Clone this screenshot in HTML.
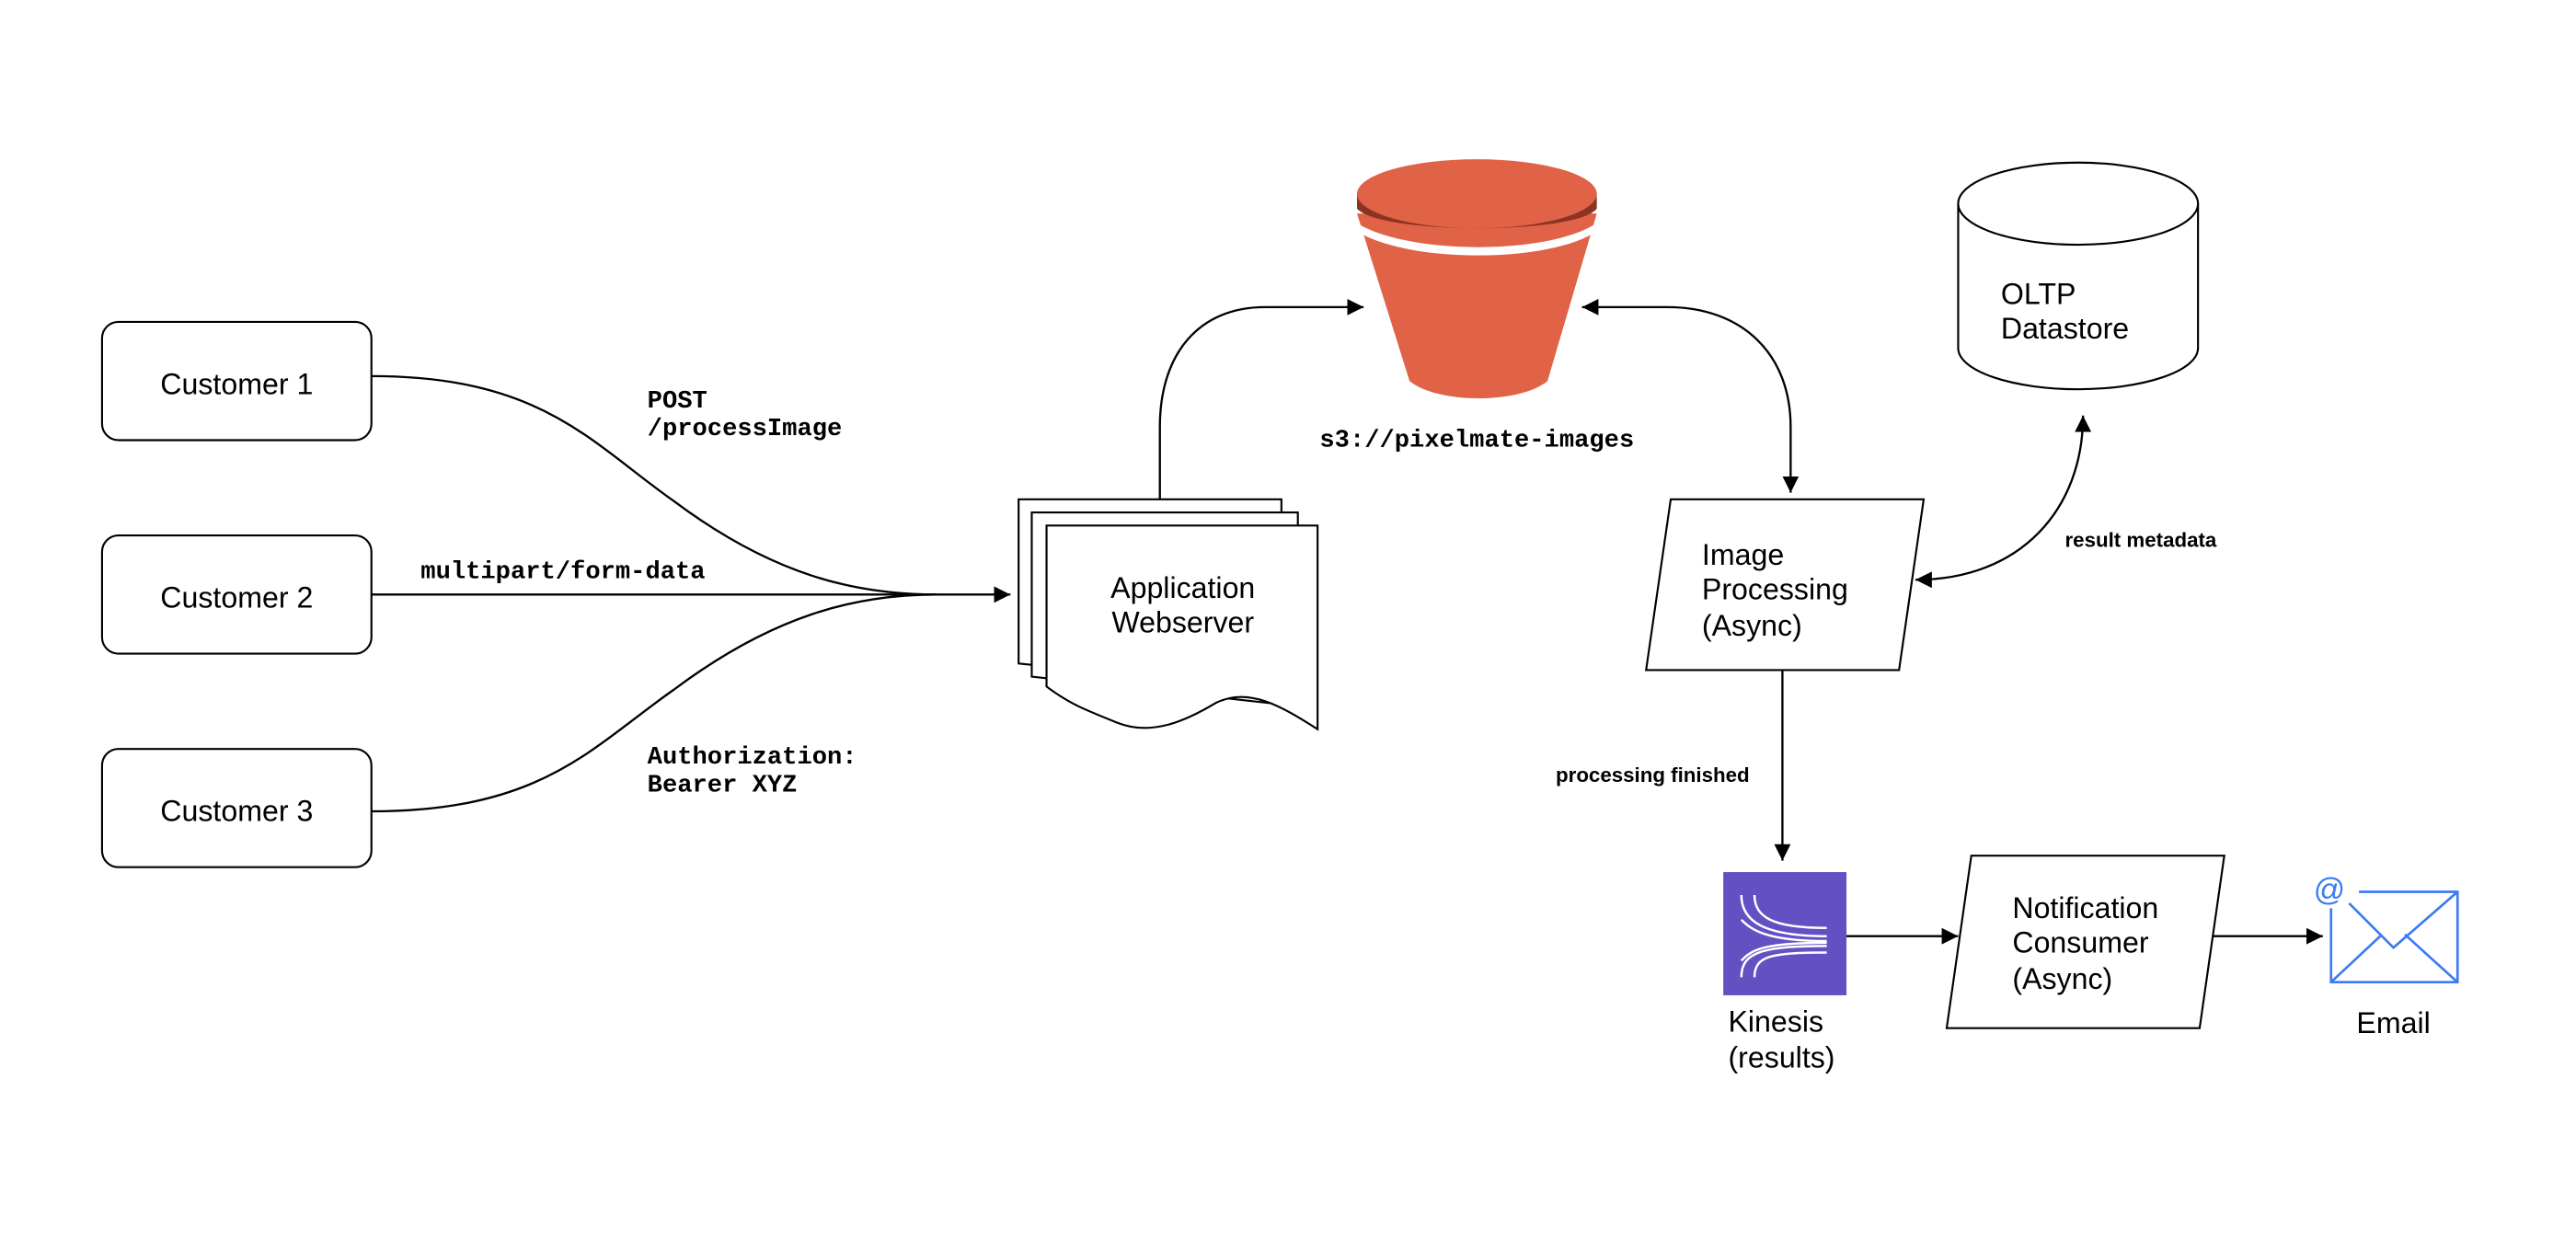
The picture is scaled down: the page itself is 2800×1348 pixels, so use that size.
<!DOCTYPE html>
<html><head><meta charset="utf-8"><style>
html,body{margin:0;padding:0;background:#fff;}
svg{display:block;}
.s{font-family:"Liberation Sans",sans-serif;}
.m{font-family:"Liberation Mono",monospace;font-weight:bold;font-size:15.2px;}
.b{font-family:"Liberation Sans",sans-serif;font-weight:bold;font-size:12.5px;}
</style></head><body>
<svg width="2800" height="1348" viewBox="0 0 1568 755" xmlns="http://www.w3.org/2000/svg">
<defs>
<marker id="a" viewBox="0 0 10 10" refX="10" refY="5" markerWidth="10" markerHeight="10" markerUnits="userSpaceOnUse" orient="auto-start-reverse"><path d="M0,0 L10,5 L0,10 z" fill="#000"/></marker>
</defs>
<rect width="1568" height="755" fill="#fff"/>
<g fill="#fff" stroke="#000" stroke-width="1.2">
<rect x="62" y="196" width="164" height="72" rx="10"/>
<rect x="62" y="326" width="164" height="72" rx="10"/>
<rect x="62" y="456" width="164" height="72" rx="10"/>
</g>
<g class="s" font-size="18" text-anchor="middle">
<text x="144" y="240">Customer 1</text>
<text x="144" y="370">Customer 2</text>
<text x="144" y="500">Customer 3</text>
</g>
<g fill="none" stroke="#000" stroke-width="1.3">
<path d="M226,229 C330,229 360,270 410,305 C470,350 520,362 570,362"/>
<path d="M226,494 C330,494 360,455 410,420 C470,375 520,362 570,362"/>
<path d="M226,362 L615,362" marker-end="url(#a)"/>
<path d="M706,304 L706,260 C706,215 730,187 770,187 L830,187" marker-end="url(#a)"/>
<path d="M1090,300 L1090,260 C1090,215 1060,187 1015,187 L963,187" marker-end="url(#a)" marker-start="url(#a)"/>
<path d="M1268,253 C1268,310 1230,353 1166,353" marker-end="url(#a)" marker-start="url(#a)"/>
<path d="M1085,408 L1085,524" marker-end="url(#a)"/>
<path d="M1124,570 L1192,570" marker-end="url(#a)"/>
<path d="M1344,570 L1414,570" marker-end="url(#a)"/>
</g>
<g class="m">
<text x="394" y="248">POST</text>
<text x="394" y="265">/processImage</text>
<text x="256" y="352">multipart/form-data</text>
<text x="394" y="465">Authorization:</text>
<text x="394" y="482">Bearer XYZ</text>
<text x="899" y="272" text-anchor="middle">s3://pixelmate-images</text>
</g>
<g fill="#fff" stroke="#000" stroke-width="1.2">
<path d="M620,304 L780,304 L780,420 L620,404 Z"/>
<path d="M628,312 L790,312 L790,430 L628,412 Z"/>
<path d="M637,320 L802,320 L802,444 C780,430 760,418 740,428 C720,440 700,448 680,440 C660,432 650,428 637,418 Z"/>
</g>
<g class="s" font-size="18" text-anchor="middle">
<text x="720" y="364">Application</text>
<text x="720" y="385">Webserver</text>
</g>
<path d="M826,130 L972,130 L942,232 C925,246 875,246 858,232 Z" fill="#E06348"/>
<path d="M828,137 C860,155 940,155 970,137 L970,142 C940,160 860,160 828,142 Z" fill="#fff"/>
<path d="M826,118 L826,127 C840,143 960,143 972,127 L972,118 Z" fill="#8C3322"/>
<ellipse cx="899" cy="118" rx="73" ry="21" fill="#E06348"/>
<path d="M1192,124 L1192,212 A73,25 0 0 0 1338,212 L1338,124" fill="#fff" stroke="#000" stroke-width="1.2"/>
<ellipse cx="1265" cy="124" rx="73" ry="25" fill="#fff" stroke="#000" stroke-width="1.2"/>
<g class="s" font-size="18">
<text x="1218" y="185">OLTP</text>
<text x="1218" y="206">Datastore</text>
</g>
<path d="M1017,304 L1171,304 L1156,408 L1002,408 Z" fill="#fff" stroke="#000" stroke-width="1.2"/>
<g class="s" font-size="18">
<text x="1036" y="344">Image</text>
<text x="1036" y="365">Processing</text>
<text x="1036" y="387">(Async)</text>
</g>
<text class="b" x="1257" y="333">result metadata</text>
<text class="b" x="947" y="476">processing finished</text>
<rect x="1049" y="531" width="75" height="75" fill="#6350C3"/>
<g fill="none" stroke="#fff" stroke-width="1.4">
<path d="M1060,545 C1060,560 1072,570 1112,570"/>
<path d="M1068,545 C1068,558 1078,565 1112,565"/>
<path d="M1060,595 C1060,580 1072,576 1112,576"/>
<path d="M1068,595 C1068,582 1078,580 1112,580"/>
<path d="M1060,560 C1066,566 1075,573 1112,573"/>
<path d="M1060,585 C1066,578 1075,574 1112,574"/>
</g>
<g class="s" font-size="18">
<text x="1052" y="628">Kinesis</text>
<text x="1052" y="650">(results)</text>
</g>
<path d="M1200,521 L1354,521 L1339,626 L1185,626 Z" fill="#fff" stroke="#000" stroke-width="1.2"/>
<g class="s" font-size="18">
<text x="1225" y="559">Notification</text>
<text x="1225" y="580">Consumer</text>
<text x="1225" y="602">(Async)</text>
</g>
<g fill="none" stroke="#3B7BF3" stroke-width="1.5">
<path d="M1436,543 L1496,543 L1496,598 L1419,598 L1419,553"/>
<path d="M1430,550 L1457,577 L1496,543"/>
<path d="M1419,598 L1450,569 M1464,569 L1496,598"/>
</g>
<text class="s" x="1418" y="548" font-size="19" fill="#3B7BF3" text-anchor="middle">@</text>
<text class="s" x="1457" y="629" font-size="18" text-anchor="middle">Email</text>
</svg>
</body></html>
